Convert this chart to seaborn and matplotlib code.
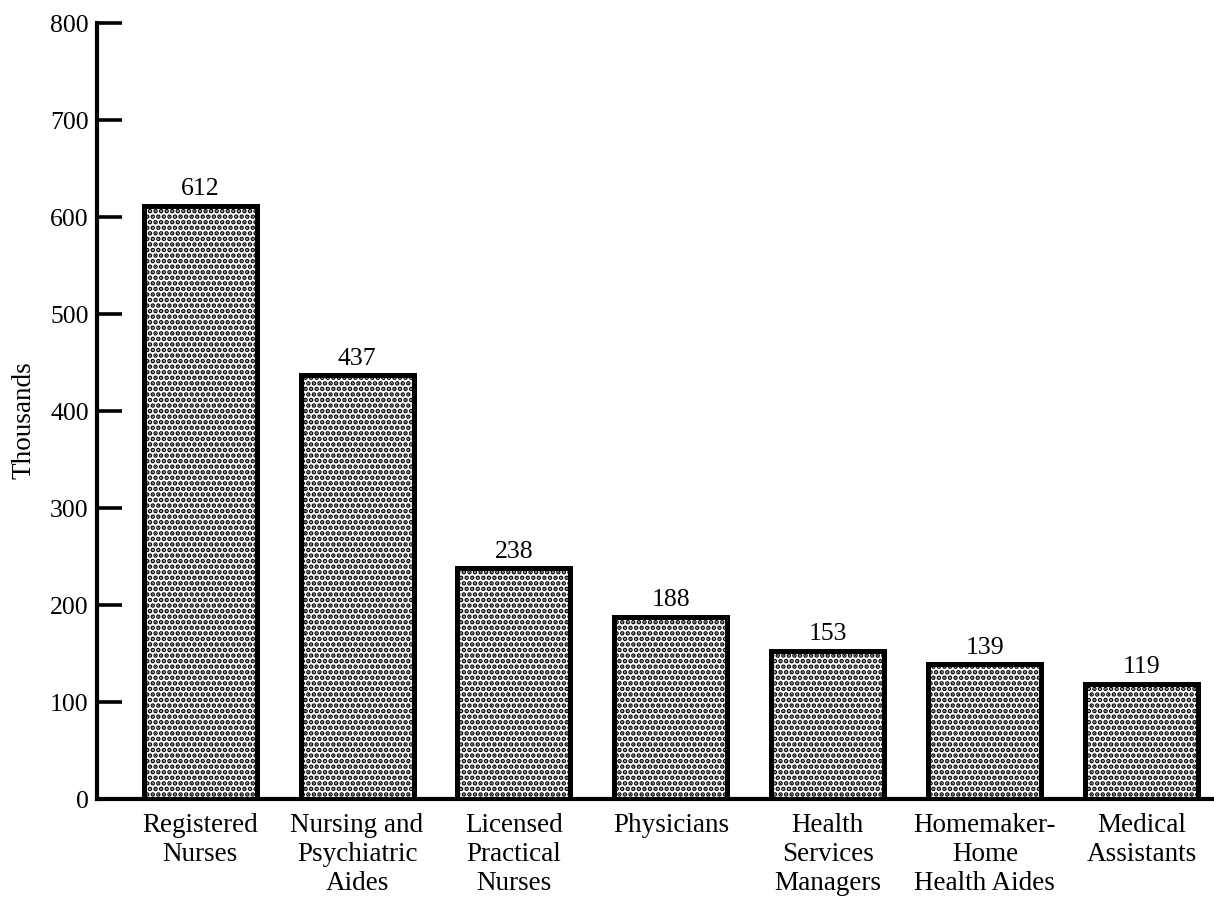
import matplotlib
matplotlib.use("Agg")
import matplotlib.pyplot as plt
import pandas as pd
import seaborn as sns

# Employment by health occupation (thousands)
occupations = [
    "Registered\nNurses",
    "Nursing and\nPsychiatric\nAides",
    "Licensed\nPractical\nNurses",
    "Physicians",
    "Health\nServices\nManagers",
    "Homemaker-\nHome\nHealth Aides",
    "Medical\nAssistants",
]
employment = [612, 437, 238, 188, 153, 139, 119]
y_ticks = [0, 100, 200, 300, 400, 500, 600, 700, 800]

df = pd.DataFrame({"occupation": occupations, "thousands": employment})

sns.set_style("ticks")
plt.rcParams["font.family"] = ["Liberation Serif", "DejaVu Serif"]
plt.rcParams["text.color"] = "black"
plt.rcParams["hatch.linewidth"] = 2.3

fig = plt.figure(figsize=(12.14, 8.99), dpi=100)
ax = fig.add_axes([0.080, 0.111, 0.920, 0.863])

sns.barplot(data=df, x="occupation", y="thousands", color="white",
            edgecolor="black", linewidth=3.6, width=0.72, ax=ax)

# stippled fill
for bar in ax.patches:
    bar.set_hatch("...")
    bar.set_facecolor("white")
    bar.set_edgecolor("black")

ax.bar_label(ax.containers[0], labels=[str(v) for v in employment],
             padding=4, fontsize=18.5, color="black")

ax.set_xlim(-0.656, 6.46)
ax.set_ylim(0, 800)
ax.set_yticks(y_ticks)
ax.set_yticklabels([str(t) for t in y_ticks])

ax.set_xlabel("")
ax.set_ylabel("Thousands", fontsize=19.5, color="black")
ax.yaxis.set_label_coords(-0.054, 0.488)

for side in ("top", "right"):
    ax.spines[side].set_visible(False)
for side in ("left", "bottom"):
    ax.spines[side].set_linewidth(3.0)
    ax.spines[side].set_color("black")

ax.tick_params(axis="y", direction="in", length=18, width=2.6,
               labelsize=18.5, pad=6, colors="black")
ax.tick_params(axis="x", length=0, labelsize=19.5, pad=10, colors="black")
for lbl in ax.get_xticklabels():
    lbl.set_linespacing(1.22)

fig.savefig("out.png", dpi=100, facecolor="white")
